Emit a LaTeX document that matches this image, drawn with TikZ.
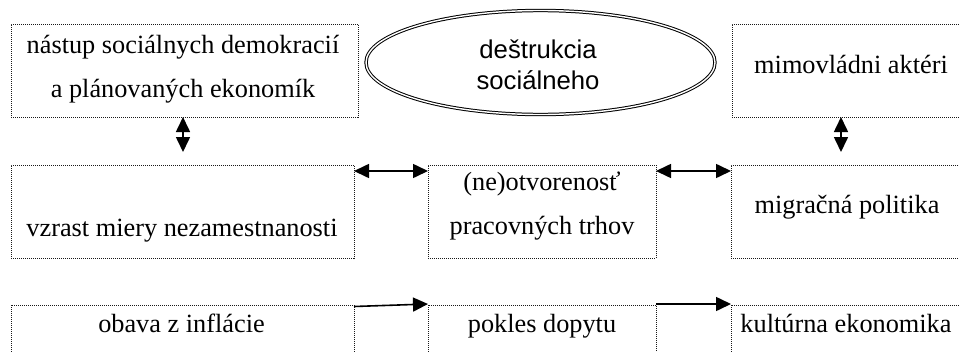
\documentclass[tikz,border=0pt]{standalone}
\usepackage{fontspec}
\setmainfont{Liberation Serif}
\newfontfamily\arialf{Liberation Sans}
\usetikzlibrary{arrows.meta,shapes.geometric}
\tikzset{htip/.tip={Triangle[length=15pt,width=14pt]},
         vtip/.tip={Triangle[length=15pt,width=14pt]}}
\begin{document}
\begin{tikzpicture}[x=1pt,y=-1pt,
  box/.style={draw=black!90, line width=0.9pt, dash pattern=on 1pt off 1pt, inner sep=0pt, outer sep=0pt, anchor=north west},
  txt/.style={anchor=base, inner sep=0pt, font=\fontsize{26.3}{44}\selectfont},
  stxt/.style={anchor=base, inner sep=0pt, font=\arialf\fontsize{25.7}{32}\selectfont},
  conn/.style={line width=1.6pt}]
\clip (0,0) rectangle (959,351);
\useasboundingbox (0,0) rectangle (959,351);
% boxes
\node[box, minimum width=347pt, minimum height=93pt] (b1) at (11,24) {};
\node[box, minimum width=240pt, minimum height=93pt] (b3top) at (732,24) {};
\node[box, minimum width=343pt, minimum height=93pt] (b2) at (11,165) {};
\node[box, minimum width=228pt, minimum height=93pt] (b4) at (428,165) {};
\node[box, minimum width=240pt, minimum height=93pt] (b5) at (731,165) {};
\node[box, minimum width=343pt, minimum height=80pt] (b6) at (11,305) {};
\node[box, minimum width=228pt, minimum height=80pt] (b7) at (428,305) {};
\node[box, minimum width=240pt, minimum height=80pt] (b8) at (731,305) {};
% ellipse
\node[draw, ellipse, double, double distance=1.4pt, line width=1pt, minimum width=349pt, minimum height=104pt, inner sep=0pt] (el) at (540.5,62.5) {};
% texts
\node[txt] (t1a) at (183,53.5) {nástup sociálnych demokracií};
\node[txt] (t1b) at (183,97) {a plánovaných ekonomík};
\node[stxt] (e1) at (538,58) {deštrukcia};
\node[stxt] (e2) at (538,89) {sociálneho};
\node[txt] (t3) at (851,73) {mimovládni aktéri};
\node[txt] (t2) at (182,236) {vzrast miery nezamestnanosti};
\node[txt] (t4a) at (542,190) {(ne)otvorenosť};
\node[txt] (t4b) at (542,234) {pracovných trhov};
\node[txt] (t5) at (847,213) {migračná politika};
\node[txt] (t6) at (181.5,332) {obava z inflácie};
\node[txt] (t7) at (542,332) {pokles dopytu};
\node[txt] (t8) at (846,332) {kultúrna ekonomika};
% connectors
\coordinate (v1) at (183,152);
\coordinate (v2) at (841,152);
\draw[conn, vtip-vtip] (b1.south -| v1) -- (v1);
\draw[conn, vtip-vtip] (b3top.south -| v2) -- (v2);
\draw[conn, htip-htip] ([yshift=-6pt]b2.north east) -- ([yshift=-6pt]b4.north west);
\draw[conn, htip-htip] ([yshift=-6pt]b4.north east) -- ([yshift=-6pt]b5.north west);
\draw[conn, -htip] ([yshift=-1.5pt]b6.north east) -- ([yshift=1pt]b7.north west);
\draw[conn, -htip] ([yshift=1pt]b7.north east) -- ([yshift=1pt]b8.north west);
\end{tikzpicture}
\end{document}
